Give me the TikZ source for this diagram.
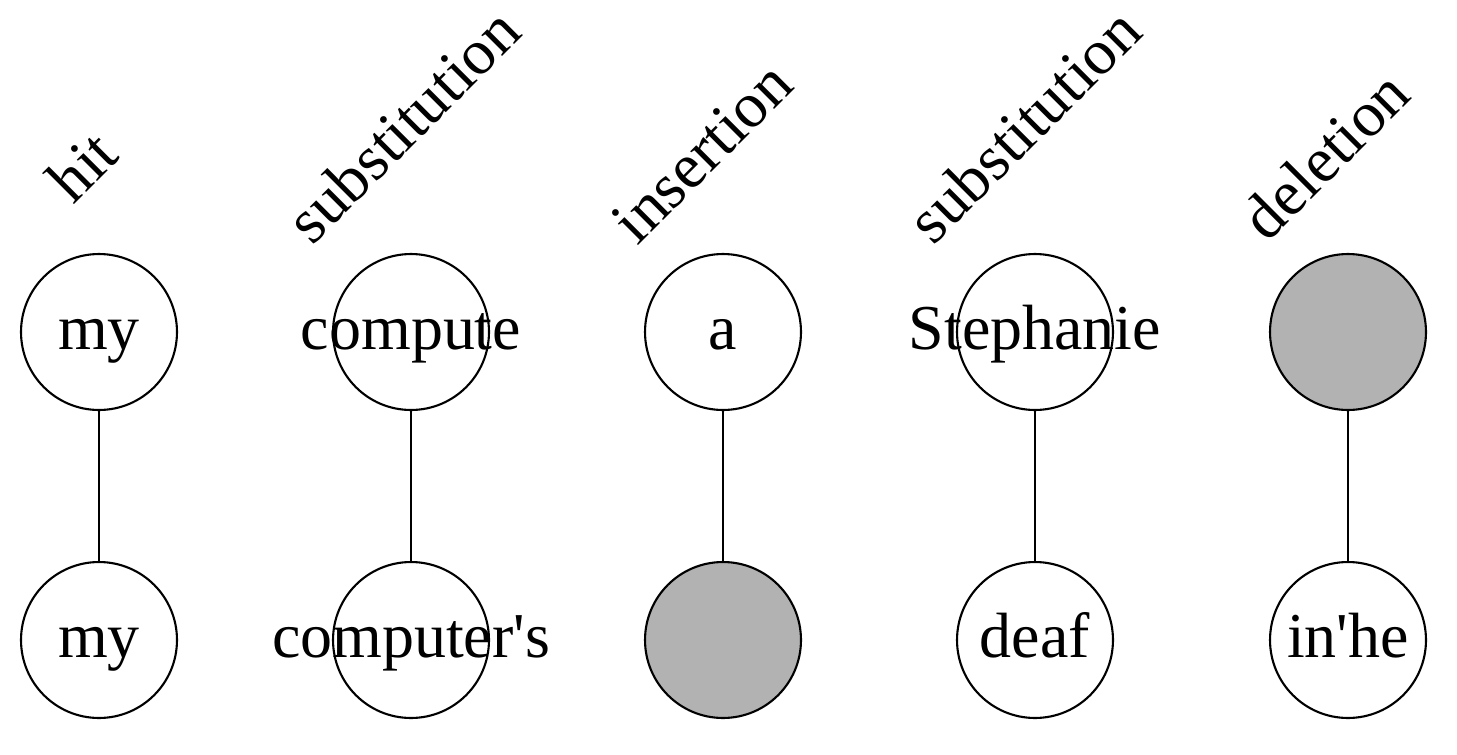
\documentclass[tikz,border=0pt]{standalone}
\usepackage{fontspec}
\setmainfont{Liberation Serif}
\begin{document}
\begin{tikzpicture}[x=0.02cm, y=-0.02cm, line width=1.2pt,
    every node/.style={font=\fontsize{36.4}{40}\selectfont, inner sep=0pt},
    word/.style={circle, draw, minimum size=3.12cm, text height=0.8cm, text depth=0.12cm},
    gap/.style={word, fill=black!30},
    tag/.style={rotate=45, anchor=base west}]
            \useasboundingbox (0,0) rectangle (1457,754);
            \foreach \i/\x/\ts/\tw/\bs/\bw in {1/99/word/my/word/my,
                2/411/word/compute/word/computer\textquotesingle s,
                3/723/word/a/gap/{},
                4/1035/word/Stephanie/word/deaf,
                5/1348/gap/{}/word/in\textquotesingle he}{
                \node[\ts] (t\i) at (\x,332) {\makebox[0pt]{\tw}};
                \node[\bs] (b\i) at (\x,640) {\makebox[0pt]{\bw}};
                \draw (t\i) -- (b\i);}
            \foreach \i/\lab/\lx/\ly in {1/hit/73/206, 2/substitution/312/247,
                3/insertion/637/247, 4/substitution/933/247, 5/deletion/1267/244}
                \node[tag] (l\i) at (\lx,\ly) {\lab};
        \end{tikzpicture}
\end{document}
